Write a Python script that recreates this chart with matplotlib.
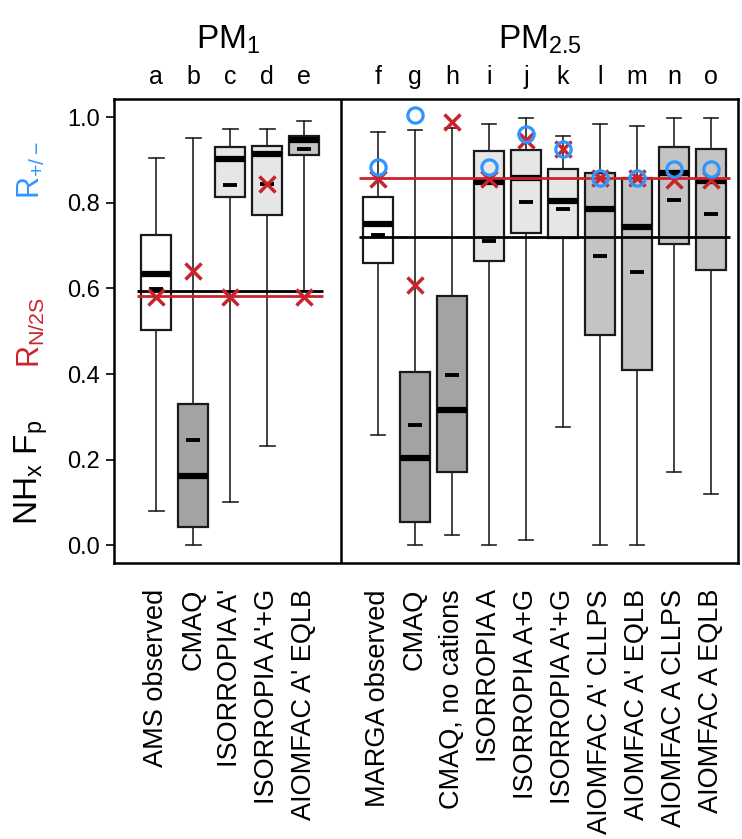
import numpy as np
import matplotlib
matplotlib.use('Agg')
import matplotlib.pyplot as plt
import matplotlib.transforms as mtransforms

plt.rcParams['font.family'] = ['Liberation Sans', 'DejaVu Sans']
plt.rcParams['mathtext.fontset'] = 'custom'
plt.rcParams['mathtext.rm'] = 'Liberation Sans'
plt.rcParams['mathtext.default'] = 'regular'

names = ["AMS observed", "CMAQ", "ISORROPIA A'", "ISORROPIA A'+G", "AIOMFAC A' EQLB",
         "MARGA observed", "CMAQ", "CMAQ, no cations", "ISORROPIA A", "ISORROPIA A+G",
         "ISORROPIA A'+G", "AIOMFAC A' CLLPS", "AIOMFAC A' EQLB", "AIOMFAC A CLLPS",
         "AIOMFAC A EQLB"]
letters = list('abcdefghijklmno')
pos = [1, 2, 3, 4, 5, 7, 8, 9, 10, 11, 12, 13, 14, 15, 16]

# box stats of NHx Fp
whislo = [0.081, 0.0, 0.101, 0.231, 0.595, 0.258, 0.0, 0.023, 0.0, 0.012, 0.276, 0.0, 0.0, 0.170, 0.120]
q1 = [0.503, 0.043, 0.814, 0.771, 0.911, 0.660, 0.055, 0.172, 0.663, 0.729, 0.719, 0.491, 0.410, 0.703, 0.644]
med = [0.634, 0.161, 0.902, 0.914, 0.947, 0.751, 0.204, 0.317, 0.848, 0.858, 0.804, 0.786, 0.743, 0.871, 0.852]
q3 = [0.726, 0.329, 0.930, 0.934, 0.957, 0.814, 0.405, 0.582, 0.921, 0.924, 0.879, 0.870, 0.857, 0.930, 0.927]
whishi = [0.906, 0.951, 0.973, 0.973, 0.992, 0.966, 0.970, 0.975, 0.984, 0.999, 0.957, 0.984, 0.980, 0.999, 0.999]
mean = [0.599, 0.245, 0.842, 0.845, 0.927, 0.726, 0.282, 0.398, 0.711, 0.803, 0.786, 0.676, 0.639, 0.806, 0.773]

# R_N/2S (red x) and R+/- (blue o)
r_n2s = [0.580, 0.641, 0.580, 0.843, 0.580, 0.855, 0.609, 0.988, 0.855, 0.947, 0.927, 0.857, 0.857, 0.853, 0.853]
r_pm = [np.nan] * 5 + [0.883, 1.005, np.nan, 0.883, 0.960, 0.927, 0.857, 0.857, 0.879, 0.879]

# group reference lines (PM1, PM2.5)
ref_black = [0.594, 0.721]
ref_red = [0.582, 0.857]
groups = [(1, 5), (7, 16)]

box_col = ['white', 'dark', 'light', 'light', 'mid',
           'white', 'dark', 'dark', 'light', 'light', 'light', 'mid', 'mid', 'mid', 'mid']
shade = {'white': '#ffffff', 'light': '#e6e6e6', 'mid': '#c4c4c4', 'dark': '#a3a3a3'}

RED = '#c9242b'
BLUE = '#2f96ff'

fig = plt.figure(figsize=(7.42, 8.39), dpi=100)
ax = fig.add_axes([0.1536, 0.3293, 0.841, 0.5523])

stats = []
for i in range(len(names)):
    stats.append(dict(label=names[i], whislo=whislo[i], q1=q1[i], med=med[i],
                      q3=q3[i], whishi=whishi[i], mean=mean[i], fliers=[]))

bp = ax.bxp(stats, positions=pos, widths=0.8, patch_artist=True, showmeans=True,
            boxprops=dict(edgecolor='#1a1a1a', linewidth=1.6),
            whiskerprops=dict(color='#222222', linewidth=1.2),
            capprops=dict(color='#222222', linewidth=1.2),
            medianprops=dict(color='black', linewidth=4.5, solid_capstyle='butt'),
            meanprops=dict(marker='_', markersize=10, markeredgewidth=2.8,
                           markeredgecolor='black', color='black'))
for patch, c in zip(bp['boxes'], box_col):
    patch.set_facecolor(shade[c])

for (x0, x1), yb, yr in zip(groups, ref_black, ref_red):
    ax.hlines(yb, x0 - 0.52, x1 + 0.52, color='black', linewidth=2, zorder=4)
    ax.hlines(yr, x0 - 0.52, x1 + 0.52, color=RED, linewidth=2, zorder=4)

ax.plot(pos, r_n2s, linestyle='none', marker='x', markersize=11, markeredgewidth=2.5,
        color=RED, zorder=5)
ax.plot(pos, r_pm, linestyle='none', marker='o', markersize=11, markeredgewidth=2.3,
        markerfacecolor='none', markeredgecolor=BLUE, zorder=6)

ax.axvline(6, color='black', linewidth=1.8)
ax.set_xlim(-0.14, 16.73)
ax.set_ylim(-0.041, 1.042)
ax.set_yticks([0.0, 0.2, 0.4, 0.6, 0.8, 1.0])
ax.set_yticklabels(['0.0', '0.2', '0.4', '0.6', '0.8', '1.0'])
ax.tick_params(axis='y', labelsize=17, length=6, width=1.2, pad=4)
ax.set_xticks(pos)
ax.set_xticklabels(names, rotation=90, fontsize=19.5)
ax.tick_params(axis='x', length=0, pad=19)
for sp in ax.spines.values():
    sp.set_linewidth(1.8)

trans = mtransforms.blended_transform_factory(ax.transData, fig.transFigure)
for p, l in zip(pos, letters):
    ax.text(p, 1 - 77 / 839, l, transform=trans, ha='center', va='center', fontsize=18)

fig.text(228 / 742, 1 - 40 / 839, r'PM$_1$', ha='center', va='center', fontsize=24)
fig.text(540 / 742, 1 - 40 / 839, r'PM$_{2.5}$', ha='center', va='center', fontsize=24)

fig.text(31 / 742, 1 - 170 / 839, r'R$_{+/-}$', rotation=90, ha='center', va='center',
         fontsize=22, color=BLUE)
fig.text(31 / 742, 1 - 333 / 839, r'R$_{N/2S}$', rotation=90, ha='center', va='center',
         fontsize=22, color=RED)
fig.text(31 / 742, 1 - 472 / 839, r'NH$_x$ F$_p$', rotation=90, ha='center', va='center',
         fontsize=24, color='black')

fig.savefig('out.png', dpi=100)
